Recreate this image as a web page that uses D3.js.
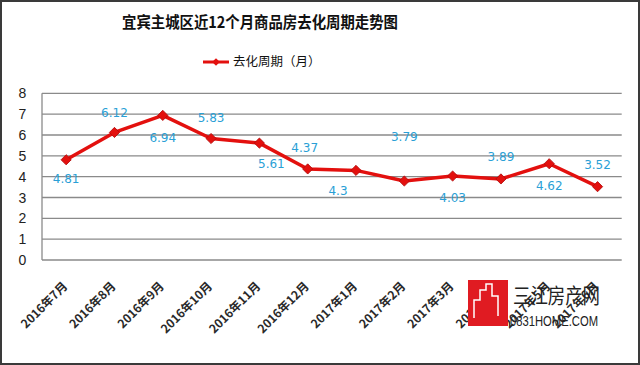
<!DOCTYPE html>
<html><head><meta charset="utf-8">
<script src="https://cdn.jsdelivr.net/npm/d3@7"></script>
<style>body{margin:0;background:#fff}svg{display:block}</style>
</head><body>
<script>
const categories = ["2016年7月","2016年8月","2016年9月","2016年10月","2016年11月","2016年12月","2017年1月","2017年2月","2017年3月","2017年4月","2017年5月","2017年6月"];
const values = [4.81, 6.12, 6.94, 5.83, 5.61, 4.37, 4.3, 3.79, 4.03, 3.89, 4.62, 3.52];
const yTicks = [0,1,2,3,4,5,6,7,8];
const seriesName = "去化周期（月）";
const title = "宜宾主城区近12个月商品房去化周期走势图";
// label placement (style): vertical offset and horizontal nudge
const labelDy = [19, -20, 22, -21, 21, -21, 20, -44, 22, -22, 22, -22];
const labelDx = [0, 0, 0, 0, 12, -3, -18, 0, 0, 0, 0, 0];

const W = 640, H = 365;
const svg = d3.select("body").append("svg").attr("width", W).attr("height", H);
svg.append("rect").attr("x",1).attr("y",1).attr("width",W-2).attr("height",H-2)
  .attr("fill","#fff").attr("stroke","#3a3a3a").attr("stroke-width",2);

const x = d3.scaleBand().domain(categories).range([42, 621.7]);
const y = d3.scaleLinear().domain([0, 8]).range([260, 93.3]);

// gridlines
svg.append("g").selectAll("line").data(yTicks).join("line")
  .attr("x1", 42).attr("x2", 621.7)
  .attr("y1", d => y(d)).attr("y2", d => y(d))
  .attr("stroke", "#8a8a8a").attr("stroke-width", 1.3);
// left axis
svg.append("line").attr("x1",42).attr("x2",42).attr("y1",y(8)).attr("y2",y(0))
  .attr("stroke","#8a8a8a").attr("stroke-width",1.3);

// y tick labels
svg.append("g").selectAll("text").data(yTicks).join("text")
  .attr("x", 22.5).attr("y", d => y(d)).attr("dy","0.36em")
  .attr("text-anchor","middle").attr("font-family","Liberation Sans, Arial, sans-serif")
  .attr("font-size", 14).attr("fill","#222").text(d => d);

// x labels
svg.append("g").selectAll("text").data(categories).join("text")
  .attr("transform", d => `translate(${x(d)+x.bandwidth()/2-1},${284}) rotate(-45)`)
  .attr("text-anchor","end").attr("dy","0.35em")
  .attr("font-family","Noto Sans CJK SC, sans-serif").attr("font-weight","bold")
  .attr("font-size", 12).attr("fill","#2a2a2a").text(d => d);

// line
const cx = (d,i) => x(categories[i]) + x.bandwidth()/2;
const line = d3.line().x((d,i) => cx(d,i)).y(d => y(d));
svg.append("path").datum(values).attr("d", line)
  .attr("fill","none").attr("stroke","#e3100e").attr("stroke-width",3.5).attr("stroke-linejoin","round");

// markers
const diamond = d3.symbol().type(d3.symbolSquare).size(52);
svg.append("g").selectAll("path").data(values).join("path")
  .attr("d", diamond)
  .attr("transform", (d,i) => `translate(${cx(d,i)},${y(d)}) rotate(45)`)
  .attr("fill","#e3100e").attr("stroke","#b20a0a").attr("stroke-width",0.8);

// data labels
svg.append("g").selectAll("text").data(values).join("text")
  .attr("x", (d,i) => cx(d,i) + labelDx[i])
  .attr("y", (d,i) => y(d) + labelDy[i])
  .attr("dy","0.35em").attr("text-anchor","middle")
  .attr("font-family","DejaVu Sans, sans-serif").attr("font-size", 12)
  .attr("fill","#2a9fd6").text(d => d);

// title
svg.append("text").attr("x", 260).attr("y", 22).attr("dy","0.35em")
  .attr("text-anchor","middle").attr("font-family","Noto Sans CJK SC, sans-serif")
  .attr("font-weight","bold").attr("font-size", 16).attr("fill","#111")
  .attr("textLength", 276).attr("lengthAdjust","spacingAndGlyphs").text(title);

// legend
svg.append("line").attr("x1",203).attr("x2",229).attr("y1",62).attr("y2",62)
  .attr("stroke","#e3100e").attr("stroke-width",3);
svg.append("path").attr("d", d3.symbol().type(d3.symbolSquare).size(30))
  .attr("transform","translate(216,62) rotate(45)").attr("fill","#e3100e");
svg.append("text").attr("x",233).attr("y",62).attr("dy","0.35em")
  .attr("font-family","Noto Sans CJK SC, sans-serif").attr("font-size",12.5)
  .attr("fill","#111").text(seriesName);

// watermark
const wm = svg.append("g");
wm.append("rect").attr("x",468).attr("y",280).attr("width",40).attr("height",46).attr("fill","#e01b22");
wm.append("path").attr("d","M474,318 L474,300 L480,300 L480,290 L486,290 L486,284 L492,284 L492,296 L498,296 L498,316")
  .attr("fill","none").attr("stroke","#fff").attr("stroke-width",1.5);
wm.append("text").attr("x",513).attr("y",296).attr("dy","0.35em")
  .attr("font-family","Noto Sans CJK SC, sans-serif").attr("font-size",21)
  .attr("textLength",87).attr("lengthAdjust","spacingAndGlyphs")
  .attr("fill","#222").text("三江房产网");
wm.append("text").attr("x",510).attr("y",321).attr("dy","0.35em")
  .attr("font-family","Liberation Sans Narrow, Liberation Sans, sans-serif").attr("font-size",14)
  .attr("textLength",88).attr("lengthAdjust","spacingAndGlyphs")
  .attr("fill","#222").text("0831HOME.COM");
</script>
</body></html>
